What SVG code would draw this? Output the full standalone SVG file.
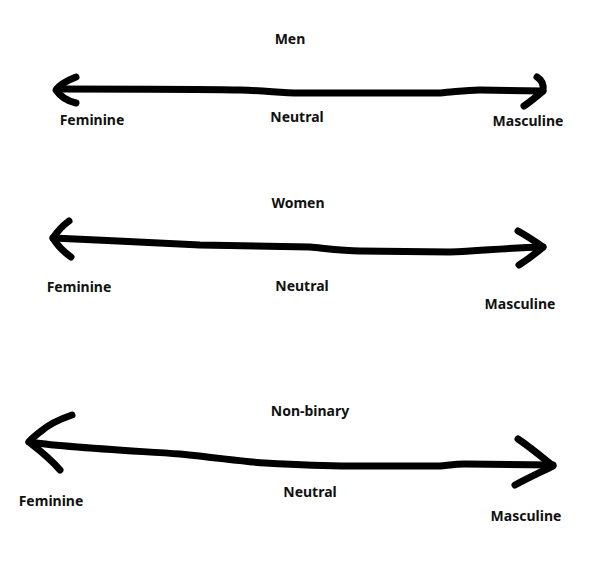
<svg xmlns="http://www.w3.org/2000/svg" width="605" height="569" viewBox="0 0 605 569">
<style>
.s{fill:none;stroke:#000;stroke-width:7;stroke-linecap:round;stroke-linejoin:round}
.t{font-family:"Noto Sans","Open Sans","DejaVu Sans",sans-serif;font-weight:bold;font-size:14px;fill:#111;text-anchor:middle}
</style>
<rect width="605" height="569" fill="#fff"/>
<g id="connectors">
<g id="arrow-men">
<path class="s" d="M57,89 C120,89 200,89 240,90 C270,91 280,93 300,93 L440,93 C455,92 465,90 480,90 L543,91"/>
<path class="s" d="M76,77 C66,81 59,85 56,90 C60,96 67,101 76,103"/>
<path class="s" d="M537,77 C542,80 544,85 543,91 C536,97 530,102 524,106"/>
</g>
<g id="arrow-women">
<path class="s" d="M53,238 C100,240 160,243 200,245 L310,247 C330,249 345,251 360,251 L450,252 C480,251 505,248 543,247"/>
<path class="s" d="M69,221 C62,226 57,232 53,238 C57,245 64,252 71,257"/>
<path class="s" d="M518,231 C527,236 536,242 543,247 C535,254 527,260 519,265"/>
</g>
<g id="arrow-nonbinary">
<path class="s" d="M29,442 C60,447 120,450 180,454 C220,458 245,462 265,463 C300,465 330,466 350,466 L440,466 C450,465 455,464 465,464 L553,465"/>
<path class="s" d="M72,415 C60,419 48,425 40,432 C35,436 31,439 29,442 C38,449 50,458 60,470"/>
<path class="s" d="M518,439 C530,447 542,457 553,466 C541,472 528,478 515,485"/>
</g>
</g>
<g id="node-men">
<text class="t" x="290" y="44">Men</text>
<text class="t" x="92" y="125">Feminine</text>
<text class="t" x="297" y="122">Neutral</text>
<text class="t" x="528" y="126">Masculine</text>
</g>
<g id="node-women">
<text class="t" x="298" y="208">Women</text>
<text class="t" x="79" y="292">Feminine</text>
<text class="t" x="302" y="291">Neutral</text>
<text class="t" x="520" y="309">Masculine</text>
</g>
<g id="node-nonbinary">
<text class="t" x="310" y="416">Non-binary</text>
<text class="t" x="51" y="506">Feminine</text>
<text class="t" x="310" y="497">Neutral</text>
<text class="t" x="526" y="521">Masculine</text>
</g>
</svg>
